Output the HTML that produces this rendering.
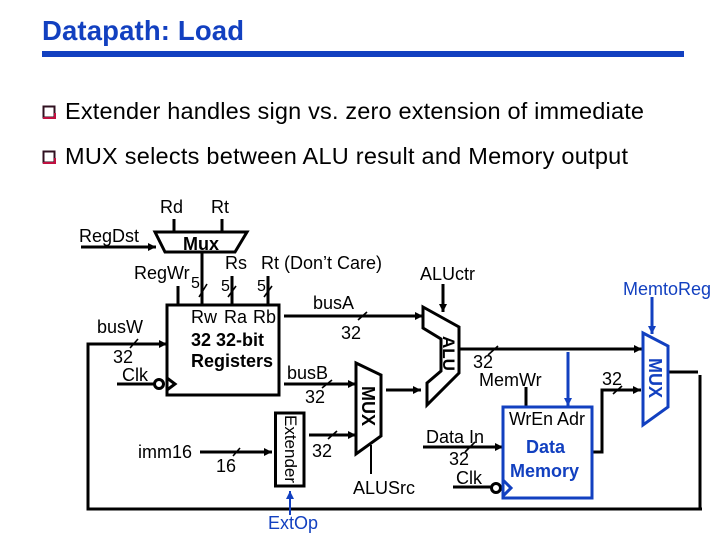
<!DOCTYPE html>
<html>
<head>
<meta charset="utf-8">
<style>
html,body{margin:0;padding:0;background:#fff;}
svg{display:block;font-family:"Liberation Sans",Arial,sans-serif;}
text{fill:#000;}
.b{fill:#1240c0;}
</style>
</head>
<body>
<svg width="720" height="540" viewBox="0 0 720 540" xmlns="http://www.w3.org/2000/svg">
<defs>
<marker id="a" markerUnits="userSpaceOnUse" markerWidth="10" markerHeight="10" refX="8" refY="5" orient="auto"><path d="M0,1 L8,5 L0,9 Z" fill="#000"/></marker>
<marker id="ab" markerUnits="userSpaceOnUse" markerWidth="10" markerHeight="10" refX="8" refY="5" orient="auto"><path d="M0,1 L8,5 L0,9 Z" fill="#1240c0"/></marker>
</defs>

<text x="42" y="40" font-size="27.5" font-weight="bold" class="b" textLength="202" lengthAdjust="spacing">Datapath: Load</text>
<rect x="42" y="51" width="642" height="6" fill="#1240c0"/>

<rect x="43.5" y="106.5" width="11" height="11" fill="#fff" stroke="#301020" stroke-width="2"/>
<path d="M43,118 H55 V113" fill="none" stroke="#c01040" stroke-width="2"/>
<rect x="43.5" y="151.5" width="11" height="11" fill="#fff" stroke="#301020" stroke-width="2"/>
<path d="M43,163 H55 V158" fill="none" stroke="#c01040" stroke-width="2"/>
<text x="65" y="119" font-size="23.5" textLength="579" lengthAdjust="spacing">Extender handles sign vs. zero extension of immediate</text>
<text x="65" y="164" font-size="23.5" textLength="563" lengthAdjust="spacing">MUX selects between ALU result and Memory output</text>

<g fill="none" stroke="#000" stroke-width="3">
<line x1="174" y1="219" x2="174" y2="232"/>
<line x1="222" y1="219" x2="222" y2="232"/>
<polygon points="155,232 247,232 235,252 165,252" fill="#fff"/>
<line x1="81" y1="247" x2="156" y2="247" marker-end="url(#a)"/>
<line x1="202" y1="252" x2="202" y2="305"/>
<line x1="178" y1="286" x2="178" y2="305"/>
<line x1="232" y1="276" x2="232" y2="305"/>
<line x1="268" y1="276" x2="268" y2="305"/>
<rect x="167" y="305" width="112" height="90"/>
<line x1="284" y1="316" x2="423" y2="316" marker-end="url(#a)"/>
<line x1="284" y1="384" x2="356" y2="384" marker-end="url(#a)"/>
<path d="M167,344 H88 V509 H702"/>
<line x1="88" y1="344" x2="167" y2="344" marker-end="url(#a)"/>
<line x1="117" y1="384" x2="155" y2="384"/>
<circle cx="159" cy="384" r="4.5" fill="#fff"/>
<polygon points="167,378 175,384 167,390"/>
<rect x="275.5" y="413" width="28.5" height="73"/>
<line x1="200" y1="452" x2="272" y2="452" marker-end="url(#a)"/>
<line x1="309" y1="435" x2="356" y2="435" marker-end="url(#a)"/>
<polygon points="356,363 381,375 381,436 356,454"/>
<line x1="371" y1="445" x2="371" y2="474" stroke-width="2"/>
<line x1="386" y1="390" x2="421" y2="390" marker-end="url(#a)"/>
<polygon points="423,307 459,327 459,373 427,405 427,383 441,371 441,339 423,328"/>
<line x1="443" y1="284" x2="443" y2="312" marker-end="url(#a)"/>
<line x1="460" y1="349" x2="642" y2="349" marker-end="url(#a)"/>
<line x1="526" y1="387" x2="526" y2="407"/>
<line x1="423" y1="447" x2="503" y2="447" marker-end="url(#a)"/>
<line x1="453" y1="487" x2="492" y2="487"/>
<circle cx="496" cy="488" r="4.5" fill="#fff"/>
<path d="M592,452 H602 V390 H640" />
<line x1="602" y1="390" x2="641" y2="390" marker-end="url(#a)"/>
<line x1="669" y1="372" x2="698" y2="372"/>
<line x1="700" y1="375" x2="700" y2="509"/>
</g>

<g fill="none" stroke="#1240c0" stroke-width="3">
<line x1="290" y1="515" x2="290" y2="491" marker-end="url(#ab)" stroke-width="2"/>
<line x1="568" y1="352" x2="568" y2="406" marker-end="url(#ab)"/>
<rect x="503" y="407" width="89" height="91"/>
<polygon points="503,480 511,488 503,496" fill="#fff"/>
<polygon points="643,333 668,346 668,407 643,425"/>
<line x1="652" y1="297" x2="652" y2="334" marker-end="url(#ab)"/>
</g>

<g stroke="#000" stroke-width="1.6" fill="none">
<line x1="199" y1="297" x2="207" y2="284"/>
<line x1="228" y1="297" x2="236" y2="286"/>
<line x1="264" y1="297" x2="272" y2="286"/>
<line x1="130" y1="348" x2="138" y2="339"/>
<line x1="358" y1="320" x2="367" y2="312"/>
<line x1="322" y1="388" x2="332" y2="380"/>
<line x1="328" y1="439" x2="337" y2="431"/>
<line x1="233" y1="456" x2="240" y2="448"/>
<line x1="488" y1="355" x2="498" y2="346"/>
<line x1="465" y1="452" x2="475" y2="442"/>
<line x1="613" y1="394" x2="622" y2="386"/>
</g>

<g font-size="18">
<text x="160" y="213">Rd</text>
<text x="211" y="213">Rt</text>
<text x="79" y="242">RegDst</text>
<text x="134" y="279">RegWr</text>
<text x="191" y="288" font-size="16">5</text>
<text x="221" y="291" font-size="16">5</text>
<text x="257" y="291" font-size="16">5</text>
<text x="225" y="269">Rs</text>
<text x="261" y="269">Rt (Don’t Care)</text>
<text x="313" y="309">busA</text>
<text x="341" y="339">32</text>
<text x="97" y="333">busW</text>
<text x="113" y="363">32</text>
<text x="122" y="381">Clk</text>
<text x="191" y="323">Rw</text>
<text x="224" y="323">Ra</text>
<text x="253" y="323">Rb</text>
<text x="287" y="379">busB</text>
<text x="305" y="403">32</text>
<text x="138" y="458" textLength="54" lengthAdjust="spacingAndGlyphs">imm16</text>
<text x="216" y="472">16</text>
<text x="312" y="457">32</text>
<text x="353" y="494">ALUSrc</text>
<text x="420" y="280">ALUctr</text>
<text x="473" y="368">32</text>
<text x="479" y="386">MemWr</text>
<text x="426" y="443">Data In</text>
<text x="449" y="465">32</text>
<text x="456" y="484">Clk</text>
<text x="509" y="425" textLength="44" lengthAdjust="spacingAndGlyphs">WrEn</text>
<text x="557" y="425">Adr</text>
<text x="602" y="385">32</text>
<text x="623" y="295" class="b">MemtoReg</text>
<text x="268" y="529" class="b">ExtOp</text>
</g>

<g font-size="18" font-weight="bold">
<text x="183" y="250">Mux</text>
<text x="191" y="346">32 32-bit</text>
<text x="191" y="367">Registers</text>
<text x="526" y="453" class="b">Data</text>
<text x="510" y="477" class="b">Memory</text>
<text transform="translate(362,386) rotate(90)">MUX</text>
<text transform="translate(443,336) rotate(90)" font-size="17">ALU</text>
<text transform="translate(649,358) rotate(90)" class="b">MUX</text>
</g>
<text transform="translate(285,415) rotate(90)" font-size="17">Extender</text>
</svg>
</body>
</html>
